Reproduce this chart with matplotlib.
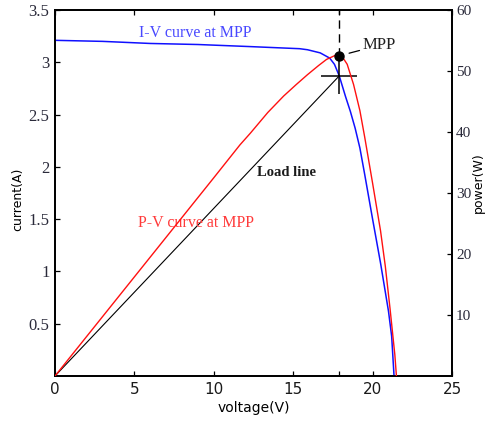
import matplotlib
matplotlib.use("Agg")
import matplotlib.pyplot as plt

# ---- data ----
iv_voltage = [0.0, 3.0, 6.0, 9.0, 12.3, 15.4, 15.9, 16.7, 17.3, 17.6, 17.9, 18.3,
              18.6, 18.9, 19.2, 19.5, 20.0, 20.5, 21.0, 21.2, 21.35]
iv_current = [3.21, 3.20, 3.18, 3.17, 3.15, 3.13, 3.12, 3.09, 3.04, 2.98, 2.87, 2.67,
              2.53, 2.37, 2.18, 1.93, 1.50, 1.08, 0.62, 0.38, 0.0]

pv_voltage = [0.0, 4.0, 8.4, 10.0, 11.65, 12.3, 13.4, 14.4, 15.2, 15.9, 16.6, 17.1,
              17.76, 18.1, 18.4, 18.8, 19.2, 19.5, 20.0, 20.5, 20.8, 21.1, 21.4, 21.5]
pv_power = [0.0, 13.0, 27.3, 32.5, 37.9, 39.8, 43.2, 45.9, 47.8, 49.4, 50.9, 51.9,
            52.7, 52.3, 51.1, 47.8, 43.5, 39.2, 31.6, 23.8, 18.0, 11.0, 3.5, 0.0]

v_mpp = 17.9
i_mpp = 2.87
p_mpp = 52.5

x_ticks = [0, 5, 10, 15, v_mpp, 20, 25]
x_tick_labels = ["0", "5", "10", "15", "", "20", "25"]
i_ticks = [0.5, 1, 1.5, 2, 2.5, 3, 3.5]
i_tick_labels = ["0.5", "1", "1.5", "2", "2.5", "3", "3.5"]
p_ticks = [10, 20, 30, 40, 50, 60]
p_tick_labels = ["10", "20", "30", "40", "50", "60"]

serif = ["Liberation Serif", "DejaVu Serif"]

fig = plt.figure(figsize=(4.87, 4.21), dpi=100)
ax = fig.add_axes([55 / 487, 45 / 421, (452 - 55) / 487, (376 - 10) / 421])
ax2 = ax.twinx()

# I-V curve and load line (current axis)
ax.plot(iv_voltage, iv_current, color="#1010ff", lw=1.1, zorder=3)
ax.plot([0, v_mpp], [0, i_mpp], color="black", lw=0.8, zorder=3)
ax.plot([v_mpp], [i_mpp], marker="+", markersize=26, mew=1.1, color="black", zorder=4)

# P-V curve (power axis)
ax2.plot(pv_voltage, pv_power, color="#ff1010", lw=1.0, zorder=3)
ax2.plot([v_mpp, v_mpp], [p_mpp, 60], color="black", lw=1.0, dashes=(6, 4), zorder=3)
ax2.plot([v_mpp], [p_mpp], marker="o", markersize=6.5, color="black", zorder=5)
ax2.annotate("MPP", xy=(v_mpp + 0.45, p_mpp + 0.3), xytext=(19.35, 54.2),
             fontsize=12, family=serif, color="#202020", va="center", ha="left",
             arrowprops=dict(arrowstyle="-", color="black", lw=0.9,
                             shrinkA=0, shrinkB=2))

# text labels
ax.text(5.3, 3.28, "I-V curve at MPP", color="#4848ff", fontsize=11.5,
        family=serif, va="center", ha="left")
ax.text(5.25, 1.46, "P-V curve at MPP", color="#ff3a3a", fontsize=11.5,
        family=serif, va="center", ha="left")
ax.text(12.7, 1.95, "Load line", color="#1a1a1a", fontsize=10.5,
        family=serif, fontweight="bold", va="center", ha="left")

# axes limits & ticks
ax.set_xlim(0, 25)
ax.set_ylim(0, 3.5)
ax2.set_ylim(0, 60)

ax.set_xticks(x_ticks)
ax.set_xticklabels(x_tick_labels, fontsize=11, family="DejaVu Sans", color="#1a1a1a")
ax.set_yticks(i_ticks)
ax.set_yticklabels(i_tick_labels, fontsize=12, family=serif, color="#2a2a3a")
ax2.set_yticks(p_ticks)
ax2.set_yticklabels(p_tick_labels, fontsize=11, family=serif, color="#2a2a3a")

ax.tick_params(axis="x", direction="in", length=3.5, width=0.9, top=True,
               pad=4, colors="black", labelcolor="#1a1a1a")
ax.tick_params(axis="y", direction="in", length=3.5, width=0.9, pad=4,
               colors="black", labelcolor="#2a2a3a")
ax2.tick_params(axis="y", direction="in", length=3.5, width=0.9, pad=3,
                colors="black", labelcolor="#2a2a3a")

for a in (ax, ax2):
    for s in a.spines.values():
        s.set_linewidth(1.3)
        s.set_color("black")

ax.set_xlabel("voltage(V)", fontsize=10, family="DejaVu Sans", labelpad=3)
fig.text(18 / 487, 1 - 199 / 421, "current(A)", fontsize=9, family="DejaVu Sans",
         rotation=90, ha="center", va="center")
fig.text(478 / 487, 1 - 183 / 421, "power(W)", fontsize=9, family="DejaVu Sans",
         rotation=90, ha="center", va="center")

fig.savefig("out.png", dpi=100)
